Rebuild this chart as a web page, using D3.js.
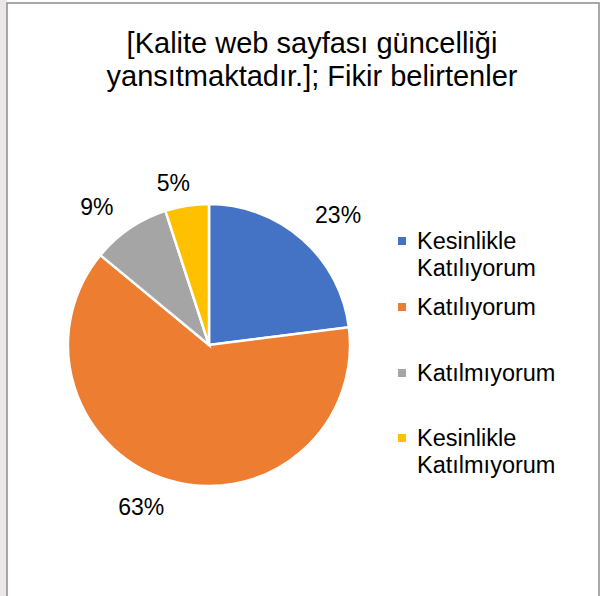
<!DOCTYPE html>
<html>
<head>
<meta charset="utf-8">
<script src="https://cdn.jsdelivr.net/npm/d3@7"></script>
<style>
  body { margin: 0; background: #fff; }
  text { font-family: "Liberation Sans", Arial, sans-serif; fill: #000; }
</style>
</head>
<body>
<svg id="chart"></svg>
<script>
const width = 603, height = 596;

const categories = ["Kesinlikle Katılıyorum", "Katılıyorum", "Katılmıyorum", "Kesinlikle Katılmıyorum"];
const legendLines = [["Kesinlikle", "Katılıyorum"], ["Katılıyorum"], ["Katılmıyorum"], ["Kesinlikle", "Katılmıyorum"]];
const values = [23, 63, 9, 5];
const labels = ["23%", "63%", "9%", "5%"];
const colors = ["#4472c4", "#ed7d31", "#a5a5a5", "#ffc000"];

const svg = d3.select("#chart").attr("width", width).attr("height", height);

// faint background outside the chart frame
svg.append("rect").attr("x", 0).attr("y", 0).attr("width", 7).attr("height", height)
    .attr("fill", "#ece6e8");
svg.append("rect").attr("x", 7).attr("y", 3).attr("width", 592).attr("height", 600)
    .attr("fill", "#fff").attr("stroke", "#8c8c8c").attr("stroke-width", 1.5);

// title
svg.append("text")
    .attr("x", 312).attr("y", 53)
    .attr("text-anchor", "middle")
    .attr("font-size", 29)
    .selectAll("tspan")
    .data(["[Kalite web sayfası güncelliği", "yansıtmaktadır.]; Fikir belirtenler"])
    .join("tspan")
    .attr("x", 312)
    .attr("dy", (d, i) => i ? 33 : 0)
    .text(d => d);

const cx = 209, cy = 345, r = 141;

const pie = d3.pie().sort(null).value(d => d);
const arc = d3.arc().innerRadius(0).outerRadius(r);
const arcs = pie(values);

const g = svg.append("g").attr("transform", `translate(${cx},${cy})`);

g.selectAll("path")
    .data(arcs)
    .join("path")
    .attr("d", arc)
    .attr("fill", (d, i) => colors[i])
    .attr("stroke", "#fff")
    .attr("stroke-width", 2.5);

// data labels outside the pie (best-fit style nudges)
const labelArc = d3.arc().innerRadius(r + 30).outerRadius(r + 30);
const labelNudge = [[16, -2], [-20, -2], [-16, 3], [-9, 7]];
g.selectAll("text.lbl")
    .data(arcs)
    .join("text")
    .attr("class", "lbl")
    .attr("x", (d, i) => labelArc.centroid(d)[0] + labelNudge[i][0])
    .attr("y", (d, i) => labelArc.centroid(d)[1] + labelNudge[i][1])
    .attr("text-anchor", "middle")
    .attr("dominant-baseline", "central")
    .attr("font-size", 23)
    .text((d, i) => labels[i]);

// legend
const legendY = [241, 307, 373, 438];
const legend = svg.append("g")
    .selectAll("g")
    .data(categories)
    .join("g")
    .attr("transform", (d, i) => `translate(402,${legendY[i]})`);

legend.append("rect")
    .attr("x", -4).attr("y", -4)
    .attr("width", 8).attr("height", 8)
    .attr("fill", (d, i) => colors[i]);

legend.append("text")
    .attr("x", 15).attr("y", 7.5)
    .attr("font-size", 23.5)
    .selectAll("tspan")
    .data((d, i) => legendLines[i])
    .join("tspan")
    .attr("x", 15)
    .attr("dy", (d, i) => i ? 27 : 0)
    .text(d => d);
</script>
</body>
</html>
